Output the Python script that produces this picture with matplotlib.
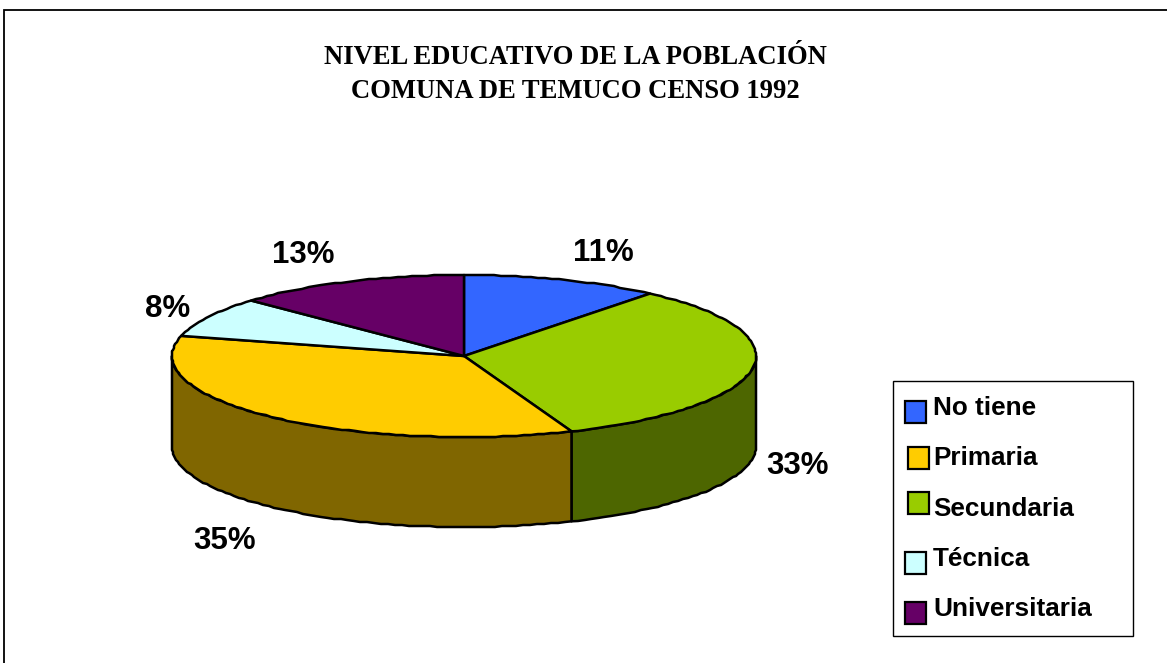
import numpy as np
import matplotlib
matplotlib.use("Agg")
import matplotlib.pyplot as plt
from matplotlib.patches import Polygon, Rectangle

W, H = 1167, 663
title_lines = ["NIVEL EDUCATIVO DE LA POBLACIÓN", "COMUNA DE TEMUCO CENSO 1992"]
categories = ["No tiene", "Secundaria", "Primaria", "Técnica", "Universitaria"]
values = [11, 33, 35, 8, 13]
top_colors = ["#3366FF", "#99CC00", "#FFCC00", "#CCFFFF", "#660066"]
side_colors = ["#1A3380", "#4D6600", "#806600", "#668080", "#330033"]
label_xy = [(603, 253), (798, 466), (225, 541), (168, 309), (303, 255)]
legend_order = ["No tiene", "Primaria", "Secundaria", "Técnica", "Universitaria"]
legend_swatch = [(904.5, 400.5), (908, 446.5), (908, 491.5), (904.5, 551.5), (904.5, 601.5)]
legend_text_y = [408, 458, 509, 559, 609]

cx, cy, rx, ry, depth = 464, 356, 292, 81, 90

fig = plt.figure(figsize=(W / 100, H / 100), dpi=100, facecolor="white")
ax = fig.add_axes([0, 0, 1, 1])
ax.set_xlim(0, W)
ax.set_ylim(H, 0)
ax.axis("off")

def pt(a):
    a = np.asarray(a)
    return cx + rx * np.sin(a), cy - ry * np.cos(a)

def arc(a0, a1):
    # fine pixel-stepped outline, as in the low-resolution original
    n = max(6, int((a1 - a0) / (2 * np.pi) * 260))
    t = np.linspace(a0, a1, n)
    x, y = pt(t)
    x[1:-1] = np.round(x[1:-1])
    y[1:-1] = np.round(y[1:-1])
    return x, y

# outer frame: only left and top edges fall inside the picture
ax.add_patch(Rectangle((4, 10), W + 20, H + 20, fc="white", ec="black", lw=1.3, zorder=0))

# title
for s, y in zip(title_lines, [58, 91]):
    ax.text(575, y, s, ha="center", va="center", family="Liberation Serif",
            weight="bold", fontsize=19.2, color="black")

edges = np.deg2rad(np.cumsum([0] + values) * 3.6)
LW = 1.8

# side walls (front half only)
for i in range(len(values)):
    a0 = max(edges[i], np.pi / 2)
    a1 = min(edges[i + 1], 3 * np.pi / 2)
    if a1 <= a0:
        continue
    x, y = arc(a0, a1)
    poly = np.r_[np.c_[x, y], np.c_[x[::-1], y[::-1] + depth]]
    ax.add_patch(Polygon(poly, closed=True, fc=side_colors[i], ec="black", lw=LW,
                         joinstyle="round", zorder=2))

# top faces
for i in range(len(values)):
    x, y = arc(edges[i], edges[i + 1])
    poly = np.r_[[[cx, cy]], np.c_[x, y]]
    ax.add_patch(Polygon(poly, closed=True, fc=top_colors[i], ec="black", lw=LW,
                         joinstyle="round", zorder=3))

# percentage labels
for v, (x, y) in zip(values, label_xy):
    ax.text(x, y, f"{v}%", ha="center", va="center", family="Liberation Sans",
            weight="bold", fontsize=22.5, color="black", zorder=5)

# legend
ax.add_patch(Rectangle((893, 381), 240, 255, fc="white", ec="black", lw=1.0, zorder=4))
color_by_cat = dict(zip(categories, top_colors))
for name, (sx, sy), ty in zip(legend_order, legend_swatch, legend_text_y):
    ax.add_patch(Rectangle((sx, sy), 21, 22, fc=color_by_cat[name], ec="black", lw=1.6, zorder=5))
    ax.text(933, ty, name, ha="left", va="center", family="Liberation Sans",
            weight="bold", fontsize=18.8, color="black", zorder=5)

fig.savefig("out.png", dpi=100, facecolor="white")
